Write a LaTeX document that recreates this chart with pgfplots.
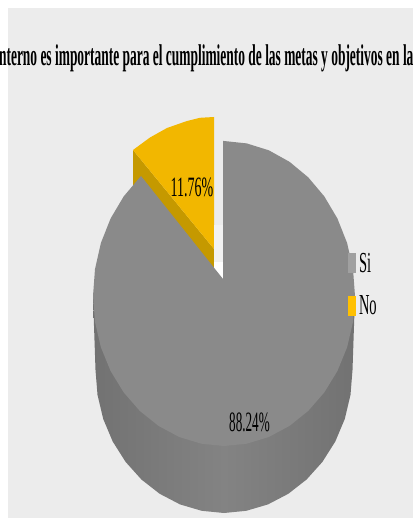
\documentclass[border=0pt]{standalone}
\usepackage{pgfplots}
\pgfplotsset{compat=1.18}
\usepackage{fontspec}
\setmainfont{Liberation Serif}
\definecolor{panel}{HTML}{ECECEC}
\definecolor{gapgray}{HTML}{F2F2F2}
\definecolor{topgray}{HTML}{8A8A8A}
\definecolor{wallmid}{HTML}{838383}
\definecolor{walledge}{HTML}{727272}
\definecolor{amber}{HTML}{F2B700}
\definecolor{amberdark}{HTML}{C59900}
\definecolor{swatchgray}{HTML}{A0A0A0}
\definecolor{swatchamber}{HTML}{FFC000}
\begin{document}
\begin{tikzpicture}[x=1pt,y=1pt]
\clip (0,0) rectangle (413,518);
\begin{axis}[
  at={(0,0)}, anchor=south west,
  x=1pt, y=1pt,
  scale only axis,
  width=413pt, height=518pt,
  xmin=0, xmax=413, ymin=0, ymax=518,
  y dir=reverse,
  hide axis,
  clip=true,
  legend style={
    at={(axis cs:348,253)}, anchor=north west,
    draw=none, fill=none, inner sep=0pt, outer sep=0pt,
    row sep=22pt,
    font=\fontsize{29}{29}\selectfont,
    /tikz/every odd column/.append style={column sep=3pt},
    cells={anchor=west},
    nodes={xscale=0.5, inner sep=0pt, outer sep=0pt},
  },
]
% Panel behind the chart
\addplot[fill=panel, draw=none, forget plot] coordinates {(8,8) (413,8) (413,518) (8,518)} -- cycle;

% Outer wall of the large slice
\addplot[left color=walledge, right color=walledge, middle color=wallmid, draw=none, forget plot] coordinates {
  (355,296) (352.5,370) (350.5,394.8) (344.8,418.9) (335.3,441.5) (322.4,461.9)
  (306.6,479.5) (288.3,493.8) (268,504.4) (246.3,510.8) (224,513)
  (201.7,510.8) (180,504.4) (159.7,493.8) (141.4,479.5) (125.6,461.9)
  (112.7,441.5) (103.2,418.9) (97.5,394.8) (95.5,370) (93,296)
} -- cycle;

% Exploded small slice: cut wall, then its face
\addplot[fill=amberdark, draw=none, forget plot] coordinates {(133,150) (133,190) (214,275) (214,249)} -- cycle;
\addplot[fill=amber, draw=none, forget plot] coordinates {
  (214,117) (200,117.8) (187,121) (167,128) (150,137.5) (133,150) (214,249)
} -- cycle;

% Gap between the two slices, paler towards the centre
\addplot[fill=gapgray, draw=none, forget plot] coordinates {(214,225) (223,225) (223,262) (214,262)} -- cycle;
\addplot[fill=white, draw=none, forget plot] coordinates {(214,262) (223,262) (223,279) (214,268)} -- cycle;

% Face of the large slice, 88.24 percent of the turn
\addplot[fill=topgray, draw=none, forget plot] coordinates {
  (223,141) (224,141) (246.7,143.4) (268.8,150.3) (289.5,161.8) (308.2,177.3)
  (324.3,196.4) (337.4,218.5) (347.1,243) (353,269.1) (355,296)
  (353,322) (347.1,347.3) (337.4,371) (324.3,392.4) (308.2,410.9)
  (289.5,425.9) (268.8,437) (246.7,443.7) (224,446)
  (201.3,443.7) (179.2,437) (158.5,425.9) (139.8,410.9) (123.7,392.4)
  (110.6,371) (100.9,347.3) (95,322) (93,296) (95,269.1) (100.9,243)
  (110.6,218.5) (123.7,196.4) (141,176) (223,279)
} -- cycle;

% Legend entries
\addlegendimage{area legend, fill=swatchgray, draw=none, legend image code/.code={
  \fill[swatchgray] (0pt,-10pt) rectangle (8pt,10pt);}}
\addlegendentry{Si}
\addlegendimage{area legend, fill=swatchamber, draw=none, legend image code/.code={
  \fill[swatchamber] (0pt,-10pt) rectangle (8pt,10pt);}}
\addlegendentry{No}

% Title, running past both edges, and the value labels
\node[anchor=base west, inner sep=0pt, xscale=0.448, font=\fontsize{30}{30}\selectfont\bfseries]
  at (axis cs:-1,66) {nterno es importante para el cumplimiento de las metas y objetivos en la};
\node[inner sep=0pt, xscale=0.5, font=\fontsize{28}{28}\selectfont] at (axis cs:192,187) {11.76\%};
\node[inner sep=0pt, xscale=0.47, font=\fontsize{28}{28}\selectfont] at (axis cs:249.5,422) {88.24\%};
\end{axis}
\end{tikzpicture}
\end{document}
